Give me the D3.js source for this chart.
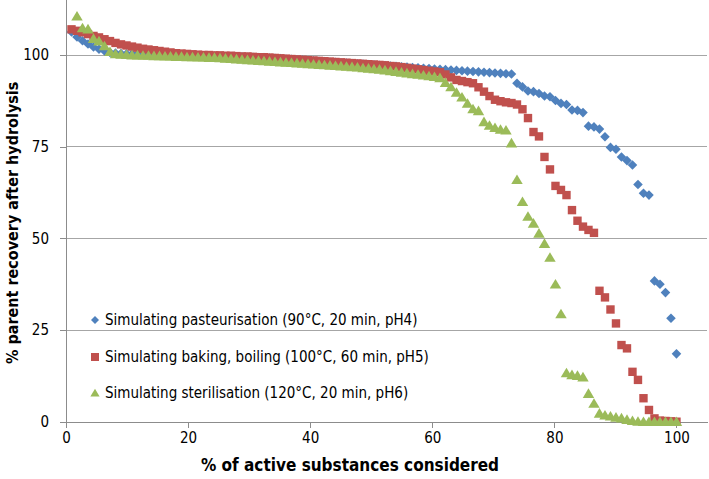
<!DOCTYPE html>
<html><head><meta charset="utf-8">
<script src="https://cdn.jsdelivr.net/npm/d3@7"></script>
<style>body{margin:0;background:#fff}svg{display:block}</style>
</head><body>
<svg id="c" width="709" height="479"></svg>
<script>
// ---- data ----
const xTicks = [0, 20, 40, 60, 80, 100];
const yTicks = [0, 25, 50, 75, 100];
const nSubstances = 111;
const seriesNames = [
  "Simulating pasteurisation (90\u00B0C, 20 min, pH4)",
  "Simulating baking, boiling (100\u00B0C, 60 min, pH5)",
  "Simulating sterilisation (120\u00B0C, 20 min, pH6)"
];
const pasteurisation = [
  106.3,104.9,103.9,103.0,102.2,101.6,101.1,100.7,100.5,100.4,
  100.3,100.3,100.2,100.2,100.1,100.1,100.1,100.0,100.0,100.0,
  99.9,99.9,99.9,99.8,99.8,99.8,99.7,99.7,99.6,99.6,
  99.5,99.5,99.4,99.4,99.3,99.3,99.2,99.1,99.0,98.9,
  98.8,98.7,98.6,98.5,98.4,98.3,98.2,98.1,98.0,97.9,
  97.8,97.7,97.6,97.5,97.4,97.3,97.2,97.1,97.0,96.9,
  96.8,96.7,96.6,96.5,96.4,96.3,96.2,96.1,96.0,95.9,
  95.8,95.7,95.6,95.5,95.4,95.3,95.2,95.1,95.0,94.9,94.8,
  92.3,91.3,90.2,90.0,89.5,88.8,88.6,87.6,86.8,86.5,
  85.0,84.9,84.3,80.6,80.4,79.8,77.7,74.8,74.3,72.2,
  71.2,70.0,64.7,62.3,61.8,38.4,37.5,35.2,28.2,18.5
];
const baking = [
  107.0,106.6,106.2,105.7,105.2,104.8,104.3,103.8,103.3,102.9,
  102.6,102.3,102.0,101.7,101.5,101.3,101.1,100.9,100.7,100.5,
  100.4,100.3,100.2,100.1,100.0,100.0,99.9,99.9,99.8,99.8,
  99.7,99.6,99.6,99.5,99.4,99.4,99.3,99.2,99.1,99.0,
  98.9,98.8,98.7,98.6,98.5,98.4,98.3,98.2,98.1,98.0,
  97.9,97.8,97.7,97.6,97.5,97.4,97.3,97.2,97.0,96.9,
  96.7,96.5,96.3,96.1,95.9,95.7,95.5,95.3,94.7,93.9,
  93.2,92.9,92.6,92.3,91.2,90.0,88.8,87.8,87.4,87.1,
  86.9,86.5,85.2,82.8,79.0,77.8,72.2,68.8,64.3,63.2,
  61.8,57.7,54.8,53.2,52.3,51.5,35.7,33.9,30.6,26.8,
  20.9,20.0,13.6,11.4,6.4,3.2,0.9,0.3,0.2,0.1,0.0
];
const sterilisation = [
  null,110.6,107.4,107.1,104.5,103.8,102.5,100.9,100.3,100.2,
  100.1,100.0,100.0,99.9,99.9,99.8,99.8,99.7,99.7,99.6,
  99.6,99.5,99.5,99.4,99.4,99.3,99.3,99.2,99.1,99.0,
  98.9,98.8,98.7,98.6,98.5,98.4,98.3,98.2,98.1,98.0,
  97.9,97.8,97.7,97.6,97.5,97.4,97.3,97.2,97.1,97.0,
  96.9,96.8,96.7,96.5,96.4,96.2,96.1,95.9,95.7,95.5,
  95.3,95.1,94.9,94.7,94.5,94.3,94.1,93.8,92.5,91.3,
  89.8,88.5,86.8,85.3,84.8,81.8,80.8,80.2,79.7,79.5,
  76.0,66.0,60.0,56.0,54.1,51.4,48.6,44.8,37.5,29.4,
  13.3,12.8,12.6,12.2,7.7,5.0,2.3,1.8,1.5,1.2,
  1.0,0.6,0.3,0.1,0.0,0.0,0.0,0.0,0.0,0.0,0.0
];
const seriesValues = [pasteurisation, baking, sterilisation];
const seriesColors = ["#4F81BD", "#C0504D", "#9BBB59"];
const xTitle = "% of active substances considered";
const yTitle = "% parent recovery after hydrolysis";

// ---- layout ----
const svg = d3.select("#c");
const L = 66, R = 707, T = 0, B = 421.7;
const x = d3.scaleLinear().domain([0, 105]).range([L, R]);
const y = d3.scaleLinear().domain([0, 115]).range([B, T]);
const FONT = "'DejaVu Sans Condensed','DejaVu Sans',sans-serif";

// gridlines
svg.append("g").selectAll("line").data(yTicks.filter(d => d > 0)).join("line")
  .attr("x1", L).attr("x2", R).attr("y1", d => y(d)).attr("y2", d => y(d))
  .attr("stroke", "#a6a6a6").attr("stroke-width", 1).attr("shape-rendering", "crispEdges");

// axes
const xAxis = d3.axisBottom(x).tickValues(xTicks).tickSize(6).tickSizeOuter(0).tickPadding(5);
const gx = svg.append("g").attr("transform", `translate(0,${B})`).call(xAxis);
const yAxis = d3.axisLeft(y).tickValues(yTicks).tickSize(6).tickSizeOuter(0).tickPadding(11);
const gy = svg.append("g").attr("transform", `translate(${L},0)`).call(yAxis);
[gx, gy].forEach(g => {
  g.selectAll(".domain").attr("stroke", "#8c8c8c").attr("shape-rendering", "crispEdges");
  g.selectAll(".tick line").attr("stroke", "#8c8c8c").attr("shape-rendering", "crispEdges");
  g.selectAll(".tick text").attr("font-family", FONT).attr("font-size", 15).attr("fill", "#000");
});
gy.select(".domain").attr("d", `M-0,${B}V${T}`);

// markers
const diamond = r => `M0,${-r}L${r},0L0,${r}L${-r},0Z`;
const square = r => `M${-r},${-r}H${r}V${r}H${-r}Z`;
const triangle = r => `M0,${-r}L${r * 1.1},${r * 0.85}L${-r * 1.1},${r * 0.85}Z`;
const shapes = [diamond(4.8), square(4.2), triangle(5.2)];

seriesValues.forEach((vals, s) => {
  const pts = vals.map((v, i) => ({ xv: (i + 1) * 100 / nSubstances, yv: v })).filter(d => d.yv !== null);
  svg.append("g").selectAll("path").data(pts).join("path")
    .attr("d", shapes[s])
    .attr("transform", d => `translate(${x(d.xv)},${y(d.yv)})`)
    .attr("fill", seriesColors[s]);
});

// legend
const legY = [320, 357, 393];
seriesNames.forEach((n, s) => {
  svg.append("path").attr("d", [diamond(4), square(4), triangle(4.2)][s])
    .attr("transform", `translate(95,${legY[s]})`).attr("fill", seriesColors[s]);
  svg.append("text").attr("x", 105).attr("y", legY[s]).attr("dy", "0.35em")
    .attr("font-family", FONT).attr("font-size", 15).text(n);
});

// axis titles
svg.append("text").attr("x", 350).attr("y", 465).attr("dy", "0.35em")
  .attr("text-anchor", "middle").attr("font-family", FONT).attr("font-size", 17)
  .attr("font-weight", "bold").text(xTitle);
svg.append("text").attr("transform", `translate(12,${(T + B) / 2 + 12}) rotate(-90)`)
  .attr("dy", "0.35em").attr("text-anchor", "middle").attr("font-family", FONT)
  .attr("font-size", 16).attr("font-weight", "bold").text(yTitle);
</script>
</body></html>
